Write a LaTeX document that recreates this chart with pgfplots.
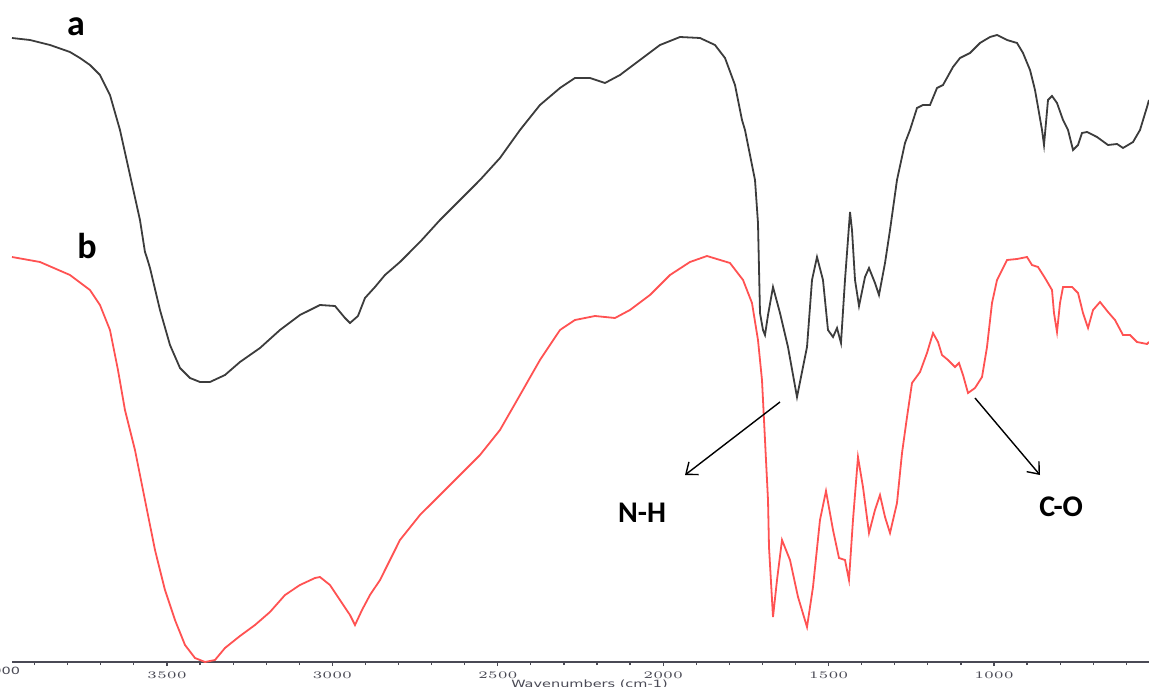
\documentclass[border=0pt]{standalone}
\usepackage{pgfplots}
\pgfplotsset{compat=1.18}
\usepackage{fontspec}
\setmainfont{Carlito}
\newfontfamily\tickfont{DejaVu Sans}
\usetikzlibrary{arrows.meta}
\definecolor{curvea}{HTML}{3C3C3C}
\definecolor{curveb}{HTML}{FF5252}
\definecolor{axgray}{HTML}{4A4A55}
\newcommand{\wide}[1]{\scalebox{1.45}[1]{#1}}
\begin{document}
\begin{tikzpicture}
\begin{axis}[
  name=ax,
  scale only axis,
  width=568.5pt, height=331pt,
  x dir=reverse,
  xmin=531.4, xmax=3968.5,
  ymin=0, ymax=662,
  axis y line=none,
  axis x line*=bottom,
  x axis line style={axgray, line width=0.8pt, -},
  xtick={1000,1500,2000,2500,3000,3500},
  minor xtick={600,700,800,900,1100,1200,1300,1400,1600,1700,1800,1900,2100,2200,2300,2400,2600,2700,2800,2900,3100,3200,3300,3400,3600,3700,3800,3900},
  tick align=outside,
  major tick length=2pt, minor tick length=1.5pt,
  tick style={axgray, line width=0.6pt},
  xticklabel style={font=\tickfont\fontsize{5}{6}\selectfont, text=axgray, anchor=center, yshift=-4.5pt},
  xticklabel={\wide{\pgfmathprintnumber[int detect, 1000 sep={}]{\tick}}},
  xlabel={\tickfont\fontsize{5}{6}\selectfont\wide{Wavenumbers (cm-1)}},
  xlabel style={text=axgray, at={(axis description cs:0.5,0)}, anchor=center, xshift=4.5pt, yshift=-11pt},
  clip=false,
]
\addplot[curvea, line width=0.9pt] coordinates {
(3968.5,624) (3914.1,622) (3853.6,617) (3793.2,610) (3763.0,604) (3732.7,597)
(3702.5,587) (3672.3,567) (3642.0,532) (3611.8,487) (3581.6,442) (3566.5,410)
(3560.4,404) (3551.3,394) (3521.1,352) (3490.9,317) (3460.6,294) (3430.4,284)
(3400.2,280) (3370.0,280) (3324.6,287) (3279.3,300) (3218.8,314) (3158.4,332)
(3097.9,347) (3037.4,357) (2992.1,356) (2961.9,344) (2946.7,339) (2922.6,346)
(2901.4,364) (2871.2,375) (2841.0,387) (2795.6,400) (2735.2,420) (2674.7,442)
(2614.2,462) (2553.8,482) (2493.3,504) (2432.8,532) (2372.4,557) (2311.9,574)
(2266.6,584) (2221.2,584) (2175.9,579) (2130.5,587) (2070.1,602) (2009.6,617)
(1949.2,625) (1888.7,624) (1843.4,617) (1813.1,604) (1782.9,577) (1761.7,542)
(1752.7,532) (1737.5,507) (1722.4,482) (1713.4,439) (1707.3,349) (1698.3,332)
(1692.2,327) (1683.1,347) (1668.0,375) (1646.9,349) (1622.7,315) (1595.5,265)
(1565.2,315) (1550.1,382) (1535.0,405) (1516.9,382) (1501.8,332) (1486.6,325)
(1474.5,334) (1462.5,319) (1450.4,382) (1435.2,450) (1429.2,432) (1420.1,382)
(1408.0,356) (1389.9,385) (1377.8,394) (1359.7,379) (1347.6,367) (1329.4,399)
(1314.3,432) (1293.2,482) (1269.0,519) (1253.9,532) (1232.7,554) (1214.6,557)
(1193.4,557) (1172.2,574) (1154.1,577) (1123.9,595) (1102.7,604) (1072.5,609)
(1042.3,619) (1012.0,625) (990.8,627) (960.6,622) (930.4,619) (912.3,609)
(891.1,592) (876.0,572) (866.9,555) (854.8,532) (848.8,517) (836.7,562)
(824.6,566) (809.5,559) (791.3,542) (776.2,532) (761.1,512) (746.0,517)
(733.9,529) (718.8,530) (688.6,525) (655.3,517) (628.1,518) (610.0,514)
(579.7,520) (558.6,532) (537.4,555) (531.4,562)
};
\addplot[curveb, line width=0.9pt] coordinates {
(3968.5,405) (3883.9,400) (3793.2,387) (3732.7,372) (3702.5,357) (3672.3,332)
(3648.1,292) (3627.0,252) (3596.7,212) (3566.5,162) (3536.2,112) (3506.0,72)
(3475.8,42) (3445.5,17) (3415.3,4) (3385.1,0) (3354.9,2) (3324.6,14)
(3279.3,26) (3233.9,37) (3188.6,50) (3143.2,67) (3097.9,77) (3052.6,84)
(3037.4,85) (3007.2,77) (2977.0,62) (2946.7,47) (2931.6,37) (2910.4,52)
(2886.3,67) (2856.0,82) (2825.8,102) (2795.6,122) (2735.2,147) (2674.7,167)
(2614.2,187) (2553.8,207) (2493.3,232) (2432.8,267) (2372.4,302) (2311.9,332)
(2266.6,342) (2206.2,346) (2145.7,344) (2100.4,352) (2039.9,367) (1979.4,387)
(1919.0,400) (1867.5,406) (1798.1,399) (1758.6,382) (1731.5,359) (1713.4,322)
(1701.3,282) (1695.2,242) (1689.2,202) (1683.1,162) (1680.1,115) (1668.0,45)
(1655.9,82) (1640.8,122) (1616.6,102) (1592.4,65) (1565.2,35) (1547.1,75)
(1526.0,142) (1507.8,171) (1486.6,132) (1468.5,104) (1450.4,102) (1438.3,82)
(1426.2,142) (1411.1,205) (1396.0,175) (1377.8,129) (1359.7,152) (1344.6,167)
(1329.4,145) (1314.3,129) (1293.2,159) (1278.0,209) (1262.9,245) (1247.8,279)
(1223.6,290) (1202.5,309) (1184.3,329) (1169.2,320) (1157.1,307) (1139.0,302)
(1117.8,295) (1105.7,299) (1093.6,287) (1078.5,269) (1057.4,274) (1036.2,285)
(1021.1,315) (1006.0,359) (990.8,382) (960.6,402) (930.4,403) (900.2,405)
(885.1,397) (866.9,395) (845.8,384) (824.6,372) (818.6,349) (809.5,330)
(800.4,359) (791.3,375) (764.1,375) (746.0,369) (730.9,349) (715.7,334)
(700.6,352) (679.5,360) (655.3,350) (634.2,342) (610.0,327) (588.8,327)
(567.7,320) (537.4,318) (531.4,320)
};
% 4000 label (mostly cropped, as in the reference)
\node[font=\tickfont\fontsize{5}{6}\selectfont, text=axgray, anchor=center, yshift=-4.5pt] at (axis cs:4000,0) {\wide{4000}};
% annotations
\draw[black, line width=0.7pt, -{Straight Barb[length=5pt,width=8pt]}] (axis cs:1646.9,260) -- (axis cs:1934.0,187);
\draw[black, line width=0.7pt, -{Straight Barb[length=5pt,width=8pt]}] (axis cs:1057.4,264) -- (axis cs:860.9,187);
\node[font=\fontsize{15}{18}\selectfont\bfseries] at (axis cs:2064,149) {N-H};
\node[font=\fontsize{15}{18}\selectfont\bfseries] at (axis cs:797,155) {C-O};
\node[font=\fontsize{18}{20}\selectfont\bfseries] at (axis cs:3775,635) {a};
\node[font=\fontsize{18}{20}\selectfont\bfseries] at (axis cs:3742,416) {b};
\end{axis}
\pgfresetboundingbox
\useasboundingbox (ax.south west) ++(-6pt,-12pt) rectangle (ax.north east);
\end{tikzpicture}
\end{document}
